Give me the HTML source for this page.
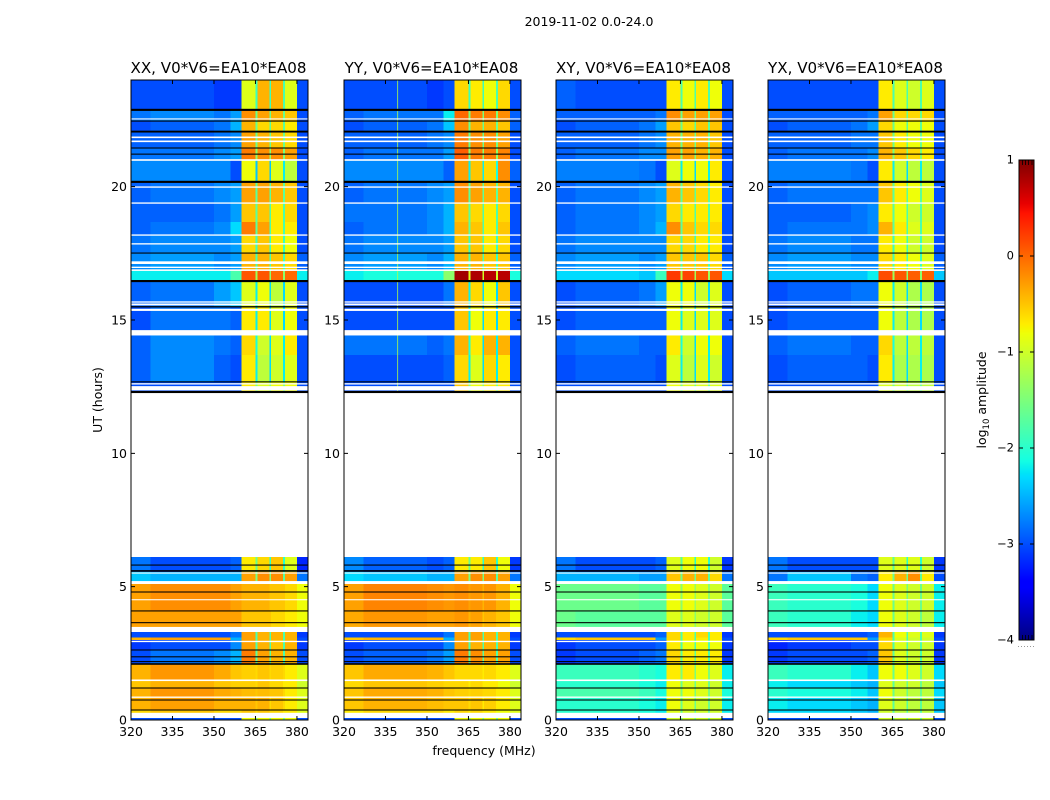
<!DOCTYPE html>
<html lang="en">
<head>
<meta charset="utf-8">
<title>2019-11-02 spectrogram</title>
<style>
html,body{margin:0;padding:0;background:#fff}
svg{display:block}
text{font-family:"DejaVu Sans","Liberation Sans",sans-serif;fill:#000}
</style>
</head>
<body>
<svg id="chart" width="1050" height="800" viewBox="0 0 1050 800" xmlns="http://www.w3.org/2000/svg">
<text x="589" y="26" font-size="12.5" text-anchor="middle">2019-11-02 0.0-24.0</text>
<text x="484" y="755" font-size="12.5" text-anchor="middle">frequency (MHz)</text>
<text x="102" y="400" font-size="12.5" text-anchor="middle" transform="rotate(-90 102 400)">UT (hours)</text>
<text x="986" y="400" font-size="12.5" text-anchor="middle" transform="rotate(-90 986 400)">log<tspan font-size="8.5" dy="3">10</tspan><tspan dy="-3"> amplitude</tspan></text>
<g id="panels"></g>
<g id="colorbar"></g>
</svg>
<script>
// Frequency cell edges (MHz)
const freqEdges = [320,327,350,356,360,365,365.7,370,370.7,375,375.6,380,384];
// Time row extents (UT hours)
const rowTop = [24,22.875,22.46,22.07,21.45,21,20.18,19.39,18.68,18.19,17.51,16.875,16.46,15.5,14.52,13.69,12.68,6.11,5.55,5.15,4.09,3.3,3.1,3,2.625,2.1,1.5,1.2,0.86,0.375,0.075];
const rowBottom = [22.875,22.46,22.07,21.45,21,20.18,19.39,18.68,18.19,17.51,16.875,16.46,15.5,14.52,13.69,12.68,12.3,5.55,5.15,4.09,3.3,3.1,3,2.625,2.1,1.5,1.2,0.86,0.375,0.27,0];
// log10 amplitude per row, per frequency cell
const valuesXX = [
[-3,-3,-3.1,-3.1,-.9,-1.9,-.4,-1.9,-.4,-1.8,-.9,-3],
[-2.8,-2.7,-2.8,-2.6,-.2,-1.6,-.3,-1.6,-.4,-1.6,-.5,-3],
[-3,-2.9,-2.8,-2.5,-.4,-1.6,-.6,-1.7,-.6,-1.7,-.7,-3],
[-2.9,-2.9,-2.8,-2.7,-.3,-1.6,-.4,-1.6,-.5,-1.6,-.6,-3],
[-2.8,-2.8,-2.7,-2.6,-.1,-1.4,-.2,-1.4,-.2,-1.5,-.3,-3],
[-2.7,-2.7,-2.7,-3,-.8,-2.4,-.6,-2.4,-.9,-2.2,-1.1,-3],
[-2.9,-2.8,-2.7,-2.6,-.3,-1.7,-.3,-1.7,-.4,-1.7,-.5,-3],
[-2.9,-2.9,-2.8,-2.6,-.5,-1.7,-.5,-1.8,-.7,-1.8,-.6,-3],
[-2.9,-2.8,-2.7,-2.3,-.1,-1.7,-.3,-1.8,-.7,-1.8,-.7,-3],
[-2.8,-2.7,-2.7,-2.6,-.6,-1.9,-.5,-1.9,-.7,-1.9,-.8,-3],
[-2.7,-2.6,-2.7,-2.6,-.4,-1.8,-.4,-1.8,-.5,-1.9,-.6,-2.9],
[-2.2,-2.2,-2.2,-1.8,.1,-1.3,.1,-1.4,0,-1.4,0,-2.2],
[-2.9,-2.8,-2.6,-2.4,-.9,-2.2,-.8,-2.3,-1.1,-2.3,-.9,-3],
[-3,-2.8,-2.8,-2.9,-.7,-2.2,-.7,-2.3,-.9,-2.3,-.8,-3],
[-2.9,-2.7,-2.8,-2.9,-.6,-2.1,-1,-2.3,-.9,-2.2,-.7,-3],
[-2.9,-2.7,-2.9,-3,-.7,-2.2,-1.1,-2.3,-1,-2.2,-.9,-3],
[-3,-3,-3,-3,-.7,-1.5,-.9,-1.5,-.8,-1.5,-.8,-3],
[-2.8,-3,-3,-2.9,-.7,-1.6,-.6,-2,-.5,-2,-.9,-3.2],
[-2.4,-2.5,-2.5,-2.5,-.3,-1.5,-.2,-1.5,-.2,-1.7,-.3,-2.8],
[-.3,-.2,-.2,-.3,-.4,-.4,-.4,-.5,-.5,-.5,-.6,-.8],
[-.3,-.3,-.3,-.3,-.5,-.5,-.5,-.5,-.6,-.6,-.7,-.8],
[-3,-3,-3,-2.8,-.3,-1.8,-.4,-1.8,-.4,-1.8,-.4,-3.1],
[-.4,-.3,-.3,-2.5,-.3,-1.8,-.4,-1.8,-.4,-1.8,-.4,-3],
[-3.1,-3,-3,-2.7,-.3,-1.8,-.4,-1.8,-.5,-1.8,-.4,-3.1],
[-3,-2.8,-2.7,-2.5,-.1,-1.7,-.3,-1.7,-.4,-1.8,-.4,-3],
[-.4,-.25,-.35,-.5,-.55,-.6,-.5,-.6,-.55,-.6,-.7,-.9],
[-.5,-.4,-.5,-.55,-.55,-.6,-.5,-.6,-.6,-.7,-.7,-1],
[-.4,-.25,-.35,-.4,-.45,-.5,-.45,-.5,-.5,-.6,-.7,-.9],
[-.4,-.3,-.4,-.4,-.4,-.5,-.4,-.6,-.5,-.6,-.7,-.9],
[-.6,-.5,-.6,-.6,-.5,-.6,-.5,-.6,-.6,-.7,-.7,-.9],
[-3,-3,-3,-3,-.8,-1.5,-.8,-1.5,-.8,-1.5,-.8,-3]
];
const valuesYY = [
[-3,-3,-3.1,-3,-.6,-1.9,-.7,-1.9,-.8,-1.8,-.6,-3],
[-2.9,-2.8,-2.8,-2.2,0,-1.5,-.1,-1.5,-.1,-1.5,-.2,-2.9],
[-3,-2.9,-2.8,-2.4,-.2,-1.6,-.4,-1.6,-.4,-1.6,-.5,-2.9],
[-2.9,-2.9,-2.8,-2.7,-.1,-1.6,-.2,-1.6,-.2,-1.6,-.3,-3],
[-2.9,-2.8,-2.8,-2.6,.05,-1.4,-.1,-1.4,-.1,-1.4,-.15,-3],
[-2.7,-2.7,-2.7,-2.9,-.3,-2.2,-.5,-2.2,-.6,-2.1,-.2,-2.9],
[-2.9,-2.8,-2.7,-2.6,-.2,-1.7,-.3,-1.7,-.4,-1.7,-.4,-3],
[-2.8,-2.8,-2.7,-2.5,-.5,-1.7,-.6,-1.8,-.7,-1.8,-.6,-3],
[-2.9,-2.8,-2.7,-2.5,-.4,-1.7,-.5,-1.8,-.7,-1.8,-.5,-3],
[-2.8,-2.7,-2.7,-2.6,-.5,-1.9,-.5,-1.9,-.7,-1.9,-.6,-3],
[-2.7,-2.6,-2.7,-2.5,-.4,-1.8,-.4,-1.8,-.5,-1.9,-.5,-2.9],
[-2.2,-2.1,-2.1,-1.4,.85,-.9,.8,-1,.75,-1,.75,-2.1],
[-3,-3,-3,-2.8,-.4,-2.2,-.6,-2.3,-.8,-2.3,-.5,-3],
[-3,-3,-3,-3,-.5,-2.2,-.8,-2.3,-.7,-2.3,-.7,-3],
[-2.8,-2.8,-2.9,-2.8,-.4,-2.1,-.7,-2.3,-.4,-2.2,-.4,-3],
[-3,-3,-3,-2.9,-.6,-2.2,-.9,-2.3,-.6,-2.2,-.7,-3],
[-3,-3,-3,-3,-.5,-1.5,-.8,-1.5,-.7,-1.5,-.7,-3],
[-2.7,-2.9,-3,-2.9,-.7,-1.6,-.7,-2,-.5,-2,-.8,-3.1],
[-2.3,-2.4,-2.5,-2.5,-.3,-1.5,-.2,-1.5,-.2,-1.7,-.3,-2.8],
[-.3,-.15,-.2,-.25,-.2,-.3,-.25,-.4,-.25,-.4,-.4,-.8],
[-.35,-.25,-.3,-.3,-.25,-.4,-.3,-.5,-.4,-.5,-.5,-.8],
[-3,-3,-3,-2.8,-.3,-1.8,-.3,-1.8,-.4,-1.8,-.4,-3.1],
[-.5,-.4,-.4,-2.5,-.3,-1.8,-.3,-1.8,-.4,-1.8,-.4,-3],
[-3.1,-3,-3,-2.7,-.3,-1.8,-.4,-1.8,-.4,-1.8,-.4,-3.1],
[-3,-2.9,-2.8,-2.6,-.1,-1.7,-.2,-1.7,-.3,-1.8,-.3,-3],
[-.5,-.35,-.4,-.5,-.6,-.6,-.6,-.7,-.6,-.7,-.7,-.9],
[-.6,-.5,-.55,-.6,-.6,-.7,-.6,-.7,-.7,-.7,-.8,-1],
[-.5,-.35,-.4,-.5,-.55,-.6,-.55,-.6,-.6,-.7,-.7,-.9],
[-.5,-.4,-.45,-.5,-.5,-.6,-.5,-.7,-.55,-.7,-.7,-.9],
[-.7,-.6,-.6,-.7,-.6,-.7,-.6,-.7,-.7,-.8,-.8,-.9],
[-3,-3,-3,-3,-.8,-1.5,-.8,-1.5,-.8,-1.5,-.8,-3]
];
const valuesXY = [
[-2.9,-3,-3,-3,-.7,-1.8,-.8,-1.8,-.7,-1.8,-.8,-3],
[-2.9,-2.9,-2.9,-2.8,-.2,-1.6,-.3,-1.6,-.3,-1.6,-.3,-3],
[-3,-2.9,-2.8,-2.6,-.5,-1.6,-.6,-1.7,-.5,-1.7,-.5,-3],
[-2.9,-2.9,-2.8,-2.7,-.4,-1.6,-.4,-1.6,-.4,-1.6,-.5,-3],
[-2.9,-2.8,-2.7,-2.7,-.3,-1.5,-.3,-1.5,-.4,-1.5,-.4,-3],
[-2.75,-2.75,-2.8,-3,-.9,-2.2,-.8,-2.3,-.8,-2.2,-.7,-3],
[-2.9,-2.8,-2.7,-2.6,-.4,-1.7,-.5,-1.7,-.6,-1.7,-.7,-3],
[-2.9,-2.8,-2.7,-2.6,-.6,-1.7,-.7,-1.8,-.7,-1.8,-.7,-3],
[-2.9,-2.8,-2.7,-2.5,-.2,-1.7,-.5,-1.8,-.6,-1.8,-.6,-3],
[-2.8,-2.7,-2.7,-2.7,-.6,-1.9,-.6,-1.9,-.7,-1.9,-.7,-3],
[-2.7,-2.6,-2.7,-2.6,-.5,-1.8,-.5,-1.8,-.5,-1.9,-.6,-2.9],
[-2.3,-2.3,-2.4,-1.9,.25,-1.2,.2,-1.3,.1,-1.3,.1,-2.3],
[-3,-2.9,-2.8,-2.6,-.8,-2.2,-.8,-2.3,-1,-2.3,-.9,-3],
[-3,-2.9,-2.9,-2.9,-.8,-2.2,-.9,-2.3,-.9,-2.3,-.9,-3],
[-2.9,-2.8,-2.9,-2.9,-.7,-2.1,-1,-2.3,-.8,-2.2,-.8,-3],
[-3,-2.9,-2.9,-3,-.9,-2.2,-1.1,-2.3,-.9,-2.2,-1,-3],
[-3,-3,-3,-3,-.8,-1.6,-.9,-1.6,-.9,-1.6,-.9,-3],
[-2.8,-3,-3,-2.9,-.9,-1.7,-.8,-2,-.8,-2,-1,-3.1],
[-2.5,-2.5,-2.6,-2.6,-.5,-1.6,-.4,-1.6,-.4,-1.7,-.6,-2.8],
[-1.6,-1.6,-1.7,-1.7,-.8,-1.4,-.8,-1.3,-.9,-1.4,-1,-1.7],
[-1.6,-1.7,-1.7,-1.7,-.9,-1.4,-.9,-1.4,-1,-1.4,-1,-1.7],
[-3,-3,-3,-2.9,-.6,-1.8,-.7,-1.8,-.6,-1.8,-.7,-3.1],
[-.6,-.5,-.5,-2.6,-.6,-1.8,-.7,-1.8,-.7,-1.8,-.7,-3],
[-3.1,-3,-3,-2.9,-.7,-1.8,-.8,-1.8,-.8,-1.8,-.8,-3.1],
[-3.1,-3,-2.9,-2.8,-.6,-1.7,-.7,-1.7,-.7,-1.8,-.7,-3.1],
[-1.9,-1.9,-2,-2.1,-.7,-1.5,-.7,-1.5,-.8,-1.5,-.9,-2.2],
[-2,-2,-2.1,-2.2,-.8,-1.6,-.9,-1.6,-.9,-1.6,-1,-2.2],
[-1.8,-1.8,-1.9,-2.1,-.8,-1.5,-.8,-1.5,-.9,-1.5,-1,-2.1],
[-2,-2,-2.1,-2.2,-.8,-1.6,-.9,-1.6,-1,-1.6,-1,-2.2],
[-2,-2,-2.1,-2.2,-.9,-1.6,-1,-1.6,-1,-1.6,-1,-2.2],
[-3,-3,-3,-3,-1,-1.6,-1,-1.6,-1,-1.6,-1,-3]
];
const valuesYX = [
[-3,-3,-3,-3,-.7,-1.8,-.9,-1.8,-1,-1.8,-.9,-3],
[-2.9,-2.9,-2.9,-2.8,-.3,-1.6,-.6,-1.6,-.6,-1.6,-.6,-3],
[-3,-2.9,-2.8,-2.6,-.6,-1.6,-.8,-1.7,-.8,-1.7,-.8,-3],
[-2.9,-2.9,-2.8,-2.8,-.5,-1.6,-.7,-1.6,-.8,-1.6,-.8,-3],
[-2.9,-2.8,-2.8,-2.7,-.4,-1.5,-.5,-1.5,-.6,-1.5,-.7,-3],
[-2.75,-2.75,-2.8,-3,-.7,-2.2,-1,-2.3,-1.1,-2.2,-1.1,-3],
[-2.9,-2.8,-2.8,-2.8,-.5,-1.7,-.7,-1.7,-.8,-1.7,-.9,-3],
[-2.9,-2.9,-2.8,-2.7,-.7,-1.7,-.8,-1.8,-1,-1.8,-1,-3],
[-2.9,-2.8,-2.8,-2.7,-.4,-1.7,-.7,-1.8,-.9,-1.8,-.9,-3],
[-2.8,-2.7,-2.8,-2.8,-.7,-1.9,-.8,-1.9,-1,-1.9,-1,-3],
[-2.7,-2.6,-2.7,-2.7,-.6,-1.8,-.7,-1.8,-.8,-1.9,-.9,-2.9],
[-2.4,-2.4,-2.4,-2.2,.15,-1.3,.1,-1.4,.05,-1.4,.05,-2.4],
[-3,-2.9,-2.8,-2.8,-.8,-2.2,-1,-2.3,-1.2,-2.3,-1.2,-3],
[-3,-2.9,-2.9,-2.9,-.8,-2.2,-1.1,-2.3,-1.2,-2.3,-1.2,-3],
[-2.9,-2.8,-2.9,-2.9,-.6,-2.1,-1.1,-2.3,-1.1,-2.2,-1.1,-3],
[-3,-2.9,-2.9,-3,-.7,-2.2,-1.2,-2.3,-1.2,-2.2,-1.2,-3],
[-3,-3,-3,-3,-.9,-1.6,-1,-1.6,-1.1,-1.6,-1.1,-3],
[-2.8,-3,-3,-3,-.9,-1.7,-.9,-2,-.9,-2,-1,-3.1],
[-2.8,-2.4,-2.8,-2.9,-.7,-1.6,-.4,-1.6,-.2,-1.7,-.7,-3],
[-1.9,-2,-2.1,-2.3,-.8,-1.6,-.9,-1.5,-1,-1.6,-1,-2.2],
[-1.9,-2,-2.2,-2.3,-.8,-1.6,-.9,-1.5,-1,-1.6,-1.1,-2.2],
[-3,-3,-3,-2.9,-.4,-1.8,-.8,-1.8,-.9,-1.8,-.9,-3.1],
[-.6,-.5,-.5,-2.6,-.6,-1.8,-.9,-1.8,-1,-1.8,-1,-3],
[-3.2,-3.1,-3,-3,-.6,-1.8,-.9,-1.8,-1,-1.8,-1,-3.1],
[-3.1,-3,-3,-2.9,-.5,-1.7,-.9,-1.7,-1,-1.8,-1,-3.1],
[-1.9,-2,-2.2,-2.4,-.8,-1.6,-.8,-1.6,-.9,-1.6,-1,-2.3],
[-2.2,-2.3,-2.4,-2.5,-.9,-1.7,-1,-1.6,-1,-1.6,-1.1,-2.4],
[-2,-2.1,-2.2,-2.4,-.8,-1.6,-1,-1.6,-1.1,-1.6,-1.1,-2.3],
[-2.2,-2.3,-2.4,-2.5,-.9,-1.7,-1,-1.7,-1.1,-1.7,-1.1,-2.4],
[-2.3,-2.3,-2.4,-2.5,-1,-1.7,-1.1,-1.7,-1.1,-1.7,-1.1,-2.4],
[-3,-3,-3,-3,-1,-1.6,-1,-1.6,-1,-1.6,-1,-3]
];
// Flagged time ranges (UT hours)
const whiteBands = [[22.56,22.52],[21.88,21.82],[21.73,21.67],[21.03,20.97],[20.01,19.96],[19.41,19.36],[18.21,18.16],[17.88,17.83],[17.2,17.1],[17.0,16.95],[16.9,16.84],[15.7,15.65],[15.62,15.55],[15.42,15.34],[14.62,14.42],[12.63,12.58],[12.52,12.36],[5.53,5.49],[5.21,5.1],[4.53,4.49],[3.49,3.3],[2.97,2.92],[2.12,2.08],[1.52,1.46],[0.88,0.83],[0.27,0.075]];
const blackBands = [[22.92,22.84],[22.48,22.44],[22.1,22.03],[21.47,21.43],[21.24,21.2],[20.22,20.14],[17.53,17.49],[16.5,16.42],[15.52,15.47],[12.7,12.66],[12.34,12.26],[5.83,5.79],[5.62,5.56],[4.82,4.78],[4.11,4.07],[3.67,3.63],[2.645,2.605],[2.39,2.35],[2.21,2.17],[2.13,2.07],[1.22,1.18],[0.77,0.73],[0.395,0.355]];
// Narrow bad channel visible in the YY panel (MHz)
const yyFlaggedChannels = [339.2];
// Axis ticks
const xTicks = [320,335,350,365,380];
const yTicks = [0,5,10,15,20];
const cbarTicks = [1,0,-1,-2,-3,-4];
// Panels
const panelTitles = ["XX, V0*V6=EA10*EA08","YY, V0*V6=EA10*EA08","XY, V0*V6=EA10*EA08","YX, V0*V6=EA10*EA08"];
const panelLefts = [131,344,556,768];
const panelValues = [valuesXX,valuesYY,valuesXY,valuesYX];

const NS = "http://www.w3.org/2000/svg";
const PW = 177, TOP = 80, BOT = 720;
const xMin = 320, xMax = 384, yMin = 0, yMax = 24, vMin = -4, vMax = 1;
function xScale(f,left){return left+(f-xMin)/(xMax-xMin)*PW;}
function yScale(h){return BOT-(h-yMin)/(yMax-yMin)*(BOT-TOP);}
function ramp(t,pts){
  for(let i=1;i<pts.length;i++){
    if(t<=pts[i][0]){
      const a=pts[i-1],b=pts[i];
      return a[1]+(t-a[0])/(b[0]-a[0])*(b[1]-a[1]);
    }
  }
  return pts[pts.length-1][1];
}
function jet(v){
  const t=Math.max(0,Math.min(1,(v-vMin)/(vMax-vMin)));
  const r=ramp(t,[[0,0],[.35,0],[.66,1],[.89,1],[1,.5]]);
  const g=ramp(t,[[0,0],[.125,0],[.375,1],[.64,1],[.91,0],[1,0]]);
  const b=ramp(t,[[0,.5],[.11,1],[.34,1],[.65,0],[1,0]]);
  return "rgb("+Math.round(r*255)+","+Math.round(g*255)+","+Math.round(b*255)+")";
}
function make(tag,attrs,parent){
  const el=document.createElementNS(NS,tag);
  for(const k in attrs){el.setAttribute(k,attrs[k]);}
  parent.appendChild(el);
  return el;
}
const panelsRoot=document.getElementById("panels");
panelTitles.forEach(function(title,p){
  const left=panelLefts[p];
  const values=panelValues[p];
  const g=make("g",{},panelsRoot);
  
  
  const cells=make("g",{"shape-rendering":"crispEdges"},g);
  
  
  values.forEach(function(row,r){
    row.forEach(function(v,c){
      const x0=xScale(freqEdges[c],left),x1=xScale(freqEdges[c+1],left);
      const y0=yScale(rowTop[r]),y1=yScale(rowBottom[r]);
      const cell=make("rect",{x:x0.toFixed(2),y:y0.toFixed(2),width:(x1-x0).toFixed(2),height:(y1-y0).toFixed(2),fill:jet(v)},cells);
      
      
    });
  });
  if(p===1){
    yyFlaggedChannels.forEach(function(f){
      const line=make("rect",{x:xScale(f,left).toFixed(2),y:yScale(yMax),width:1,height:yScale(12.3)-yScale(yMax),fill:jet(-1.2),opacity:.8},g);
      
      
    });
  }
  whiteBands.forEach(function(b){
    const band=make("rect",{x:left,y:yScale(b[0]).toFixed(2),width:PW,height:(yScale(b[1])-yScale(b[0])).toFixed(2),fill:"#fff"},g);
    
    
  });
  blackBands.forEach(function(b){
    const band=make("rect",{x:left,y:yScale(b[0]).toFixed(2),width:PW,height:(yScale(b[1])-yScale(b[0])).toFixed(2),fill:"#000"},g);
    
    
  });
  const frame=make("rect",{x:left,y:TOP,width:PW,height:BOT-TOP,fill:"none",stroke:"#000","stroke-width":1},g);
  
  
  const t=make("text",{x:left+PW/2-1,y:TOP-7,"font-size":15.1,"text-anchor":"middle"},g);
  t.textContent=title;
  
  
  xTicks.forEach(function(f){
    const x=xScale(f,left);
    make("path",{d:"M"+x+" "+BOT+"v-4M"+x+" "+TOP+"v4",stroke:"#000","stroke-width":1,fill:"none"},g);
    const lab=make("text",{x:x,y:736,"font-size":12.5,"text-anchor":"middle"},g);
    lab.textContent=String(f);
    
    
  });
  yTicks.forEach(function(h){
    const y=yScale(h);
    make("path",{d:"M"+left+" "+y+"h4M"+(left+PW)+" "+y+"h-4",stroke:"#000","stroke-width":1,fill:"none"},g);
    const lab=make("text",{x:left-4,y:y+4.5,"font-size":12.5,"text-anchor":"end"},g);
    lab.textContent=String(h);
    
    
  });
});
// Colorbar
const cb=document.getElementById("colorbar");
const cbL=1019,cbW=15,cbT=160,cbB=640;
function cbY(v){return cbB-(v-vMin)/(vMax-vMin)*(cbB-cbT);}
const cbSteps=240;
for(let i=0;i<cbSteps;i++){
  const v0=vMin+(vMax-vMin)*i/cbSteps,v1=vMin+(vMax-vMin)*(i+1)/cbSteps;
  make("rect",{x:cbL,y:cbY(v1).toFixed(2),width:cbW,height:((cbB-cbT)/cbSteps+.4).toFixed(2),fill:jet((v0+v1)/2),"shape-rendering":"crispEdges"},cb);
}
const cbFrame=make("rect",{x:cbL,y:cbT,width:cbW,height:cbB-cbT,fill:"none",stroke:"#000","stroke-width":1},cb);


cbarTicks.forEach(function(v){
  const y=cbY(v);
  make("path",{d:"M"+cbL+" "+y+"h4M"+(cbL+cbW)+" "+y+"h-4",stroke:"#000","stroke-width":1,fill:"none"},cb);
  const lab=make("text",{x:cbL-5,y:y+3.5,"font-size":11.5,"text-anchor":"end"},cb);
  lab.textContent=v<0?"\u2212"+Math.abs(v):String(v);
  
  
});
[3.5,6.5,9.5,13].forEach(function(d){
  make("path",{d:"M"+(cbL+d)+" "+cbT+"v5M"+(cbL+d)+" "+cbB+"v-5",stroke:"#000","stroke-width":.8,fill:"none"},cb);
});
for(let x=cbL-1;x<cbL+cbW+1;x+=3){
  make("rect",{x:x,y:646,width:1,height:1,fill:"#999"},cb);
}
</script>
</body>
</html>
